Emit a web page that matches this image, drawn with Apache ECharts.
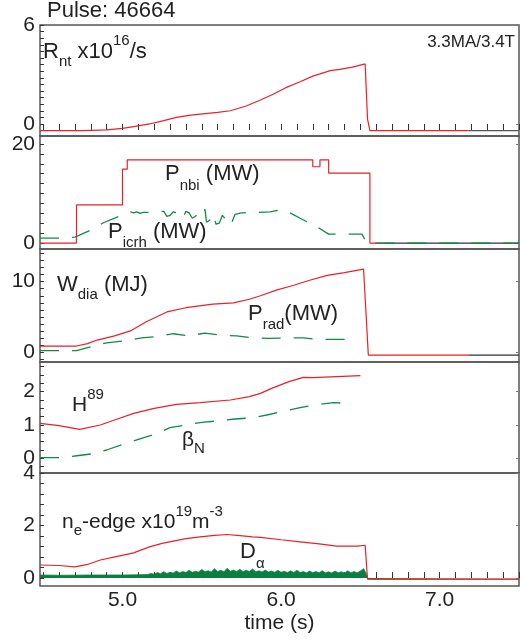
<!DOCTYPE html>
<html><head><meta charset="utf-8">
<script src="https://cdn.jsdelivr.net/npm/echarts@6/dist/echarts.min.js"></script>
<style>html,body{margin:0;padding:0;background:#fff}#c{width:520px;height:641px}</style>
</head><body><div id="c"></div>
<script>
// ---------------- data (time s, value) ----------------
const xTickLabels = [5.0, 6.0, 7.0];
const yTickLabels = [[0, 6], [0, 20], [0, 10], [0, 1, 2], [0, 2, 4]];

// Panel 1: neutron rate x1e16/s
const rnt = [[4.48,-0.4],[4.75,-0.4],[4.9,-0.36],[5.0,-0.27],[5.08,-0.15],[5.17,0.0],[5.26,0.2],[5.34,0.4],[5.42,0.52],[5.49,0.6],[5.6,0.7],[5.68,0.8],[5.78,1.09],[5.87,1.45],[5.95,1.8],[6.03,2.2],[6.12,2.56],[6.2,2.9],[6.31,3.23],[6.37,3.31],[6.45,3.45],[6.53,3.64],[6.545,0.3],[6.56,-0.4],[7.18,-0.4]];
const rntRef = [[7.18,-0.4],[7.5,-0.4]];

// Panel 2: NBI power (step, value held until next time) and ICRH power (MW)
const pnbi = [[4.48,0],[4.71,7.7],[5.0,14.9],[5.03,16.8],[6.2,15.4],[6.245,16.8],[6.30,14.1],[6.56,0],[6.65,0]];
const pnbiRef = [[6.65,0],[7.5,0]];
const picrh = [[4.48,1.0],[4.62,1.0],[4.70,1.2],[4.80,2.6],[4.88,4.1],[4.97,5.3],[5.02,5.8],[5.05,6.3],[5.07,6.1],[5.09,6.3],[5.11,6.0],[5.13,6.2],[5.16,6.2],[5.21,6.3],[5.26,6.4],[5.28,5.4],[5.30,5.6],[5.32,6.3],[5.34,6.1],[5.36,5.2],[5.38,5.0],[5.40,6.4],[5.42,6.1],[5.44,5.0],[5.46,5.4],[5.48,6.2],[5.50,5.6],[5.52,6.8],[5.53,4.2],[5.55,4.6],[5.57,5.8],[5.59,3.8],[5.61,4.0],[5.63,5.6],[5.65,4.8],[5.67,3.6],[5.69,4.2],[5.71,5.8],[5.75,6.1],[5.80,6.1],[5.86,6.2],[5.93,6.3],[6.00,6.7],[6.04,6.4],[6.12,5.0],[6.23,3.2],[6.30,1.8],[6.42,1.8],[6.51,1.8],[6.54,0],[7.5,0]];

// Panel 3: diamagnetic energy (MJ) and radiated power (MW)
const wdia = [[4.48,0.85],[4.71,0.85],[4.78,1.2],[4.84,1.7],[4.95,2.3],[5.05,3.0],[5.15,4.3],[5.28,5.7],[5.40,6.3],[5.57,6.8],[5.70,7.0],[5.80,7.5],[5.87,8.0],[5.97,8.8],[6.08,9.5],[6.18,10.2],[6.29,10.9],[6.40,11.3],[6.52,11.8],[6.55,-0.43],[7.18,-0.43]];
const wdiaRef = [[7.18,-0.43],[7.5,-0.43]];
const prad = [[4.48,0.2],[4.60,0.2],[4.71,0.2],[4.80,0.75],[4.90,1.3],[5.02,1.6],[5.12,2.0],[5.22,2.2],[5.32,2.6],[5.42,2.3],[5.52,2.7],[5.62,2.4],[5.72,2.3],[5.82,2.0],[5.92,1.95],[6.04,2.0],[6.14,2.0],[6.24,1.8],[6.34,1.8],[6.46,1.8]];

// Panel 4: H89 factor and normalised beta
const h89 = [[4.48,1.05],[4.6,0.98],[4.73,0.87],[4.86,1.0],[4.95,1.15],[5.07,1.35],[5.2,1.5],[5.34,1.62],[5.49,1.67],[5.68,1.75],[5.8,1.85],[5.87,1.95],[5.94,2.1],[6.05,2.3],[6.14,2.43],[6.2,2.42],[6.35,2.45],[6.5,2.48]];
const betaN = [[4.48,0.02],[4.61,0.02],[4.70,0.07],[4.80,0.13],[4.90,0.25],[5.01,0.43],[5.10,0.57],[5.22,0.75],[5.30,0.92],[5.42,1.02],[5.50,1.08],[5.62,1.13],[5.71,1.18],[5.83,1.22],[5.91,1.3],[6.02,1.42],[6.12,1.52],[6.24,1.62],[6.33,1.67],[6.42,1.65]];

// Panel 5: edge density x1e19 m^-3 and D-alpha (upper envelope of the trace)
const neEdge = [[4.48,0.5],[4.6,0.48],[4.70,0.43],[4.78,0.52],[4.86,0.69],[4.96,0.82],[5.07,0.96],[5.17,1.19],[5.25,1.32],[5.32,1.41],[5.4,1.5],[5.49,1.57],[5.58,1.63],[5.66,1.66],[5.74,1.62],[5.82,1.57],[5.87,1.55],[6.0,1.46],[6.12,1.38],[6.24,1.3],[6.35,1.22],[6.48,1.22],[6.53,1.25],[6.545,-0.04],[7.5,-0.04]];
const dAlpha = [[4.48,0.12],[4.6,0.11],[4.8,0.12],[5.0,0.12],[5.1,0.13],[5.16,0.14],[5.18,0.18],[5.20,0.15],[5.22,0.21],[5.24,0.17],[5.26,0.24],[5.28,0.18],[5.30,0.22],[5.32,0.19],[5.34,0.27],[5.36,0.2],[5.38,0.25],[5.40,0.21],[5.42,0.3],[5.44,0.22],[5.46,0.26],[5.48,0.23],[5.50,0.33],[5.52,0.24],[5.54,0.28],[5.56,0.23],[5.58,0.36],[5.60,0.25],[5.62,0.3],[5.64,0.24],[5.66,0.38],[5.68,0.26],[5.70,0.31],[5.72,0.25],[5.74,0.34],[5.76,0.24],[5.78,0.3],[5.80,0.25],[5.82,0.35],[5.84,0.24],[5.86,0.28],[5.88,0.23],[5.90,0.31],[5.92,0.23],[5.94,0.27],[5.96,0.22],[5.98,0.3],[6.00,0.22],[6.02,0.26],[6.04,0.21],[6.06,0.28],[6.08,0.21],[6.10,0.3],[6.12,0.21],[6.14,0.25],[6.16,0.2],[6.18,0.27],[6.20,0.2],[6.22,0.25],[6.24,0.2],[6.26,0.28],[6.28,0.2],[6.30,0.24],[6.32,0.19],[6.34,0.27],[6.36,0.2],[6.38,0.24],[6.40,0.19],[6.42,0.28],[6.44,0.2],[6.46,0.25],[6.48,0.2],[6.50,0.27],[6.52,0.36],[6.535,0.2],[6.55,-0.04],[7.5,-0.04]];

// ---------------- layout ----------------
const FONT = '"Liberation Sans", Arial, Helvetica, sans-serif';
const RED = '#e8202a', GREEN = '#118a48', DGREEN = '#0b7f3f', INK = '#222';
function range(a, b, s) { const o = []; for (let v = a; v <= b + 1e-9; v += s) o.push(+v.toFixed(4)); return o; }
const xMinor = range(4.5, 7.5, 0.1);
const grids = [
  {top: 25, height: 111, min: -0.73, max: 6, minor: range(-0.4, 6, 0.4)},
  {top: 136, height: 113, min: -1.2, max: 21.6, minor: range(0, 20, 2)},
  {top: 249, height: 113, min: -1.42, max: 14.65, minor: range(-1, 14, 1)},
  {top: 362, height: 111, min: -0.44, max: 2.89, minor: range(-0.25, 2.75, 0.25)},
  {top: 473, height: 113, min: -0.3, max: 4, minor: range(0, 4, 0.4)}
];

const xAxis = [], yAxis = [];
grids.forEach((g, i) => {
  const last = i === 4;
  xAxis.push({
    type: 'value', gridIndex: i, min: 4.48, max: 7.5,
    axisLine: {show: false}, splitLine: {show: false},
    axisTick: {show: last, inside: true, length: 6, customValues: xMinor, lineStyle: {color: '#333', width: 1}},
    axisLabel: {show: last, customValues: xTickLabels, formatter: v => v.toFixed(1), fontSize: 21, fontFamily: FONT, color: INK, margin: 4},
    name: last ? 'time (s)' : '', nameLocation: 'middle', nameGap: 27,
    nameTextStyle: {fontSize: 21, fontFamily: FONT, color: INK}
  });
});
// top ticks of upper panel
xAxis.push({
  type: 'value', gridIndex: 0, position: 'top', min: 4.48, max: 7.5,
  axisLine: {show: false}, splitLine: {show: false},
  axisTick: {show: true, inside: true, length: 6, customValues: xMinor, lineStyle: {color: '#333', width: 1}},
  axisLabel: {show: false}
});
grids.forEach((g, i) => {
  yAxis.push({
    type: 'value', gridIndex: i, min: g.min, max: g.max,
    axisLine: {show: false}, splitLine: {show: false},
    axisTick: {show: true, inside: true, length: 4, customValues: g.minor, lineStyle: {color: '#333', width: 1}},
    axisLabel: {customValues: yTickLabels[i], fontSize: 21, fontFamily: FONT, color: INK, margin: 5}
  });
});
grids.forEach((g, i) => {
  yAxis.push({
    type: 'value', gridIndex: i, position: 'right', min: g.min, max: g.max,
    axisLine: {show: false}, splitLine: {show: false},
    axisTick: {show: true, inside: true, length: 3, customValues: yTickLabels[i], lineStyle: {color: '#777', width: 1}},
    axisLabel: {show: false}
  });
});

function line(data, i, color, opts) {
  return Object.assign({
    type: 'line', xAxisIndex: i, yAxisIndex: i, data: data, symbol: 'none',
    silent: true, animation: false,
    lineStyle: {color: color, width: 1.2}
  }, opts || {});
}
const DASH = [19, 13];
const series = [
  line(rntRef, 0, '#555'),
  line(rnt, 0, RED),
  line(pnbiRef, 1, '#333'),
  line(pnbi, 1, RED, {step: 'end'}),
  line(picrh, 1, GREEN, {lineStyle: {color: GREEN, width: 1.3, type: DASH}}),
  line(wdiaRef, 2, '#333'),
  line(wdia, 2, RED),
  line(prad, 2, GREEN, {lineStyle: {color: GREEN, width: 1.3, type: DASH}}),
  line(h89, 3, RED),
  line(betaN, 3, GREEN, {lineStyle: {color: GREEN, width: 1.3, type: DASH}}),
  line(dAlpha, 4, DGREEN, {lineStyle: {color: DGREEN, width: 0.7}, areaStyle: {color: DGREEN, opacity: 1}}),
  line(neEdge, 4, RED)
];

// rich text annotations
const M = s => ({fontSize: s, fontFamily: FONT, fill: INK, verticalAlign: 'middle'});
const SUB = (s, d) => ({fontSize: s, fontFamily: FONT, fill: INK, verticalAlign: 'middle', padding: [2 * d, 0, 0, 0]});
const SUP = (s, d) => ({fontSize: s, fontFamily: FONT, fill: INK, verticalAlign: 'middle', padding: [0, 0, 2 * d, 0]});
function label(x, y, text, rich, align) {
  return {type: 'text', x: x, y: y, silent: true, z: 100,
    style: {text: text, rich: rich, fill: INK, fontSize: 22, fontFamily: FONT, align: align || 'left', verticalAlign: 'middle'}};
}
const graphic = [
  label(47, 11, '{m|Pulse: 46664}', {m: M(22)}),
  label(43, 52, '{m|R}{s|nt}{m| x10}{p|16}{m|/s}', {m: M(22), s: SUB(15, 10), p: SUP(15, 11)}),
  label(515, 42, '{m|3.3MA/3.4T}', {m: M(17)}, 'right'),
  label(165, 174, '{m|P}{s|nbi}{m| (MW)}', {m: M(22), s: SUB(15, 12)}),
  label(108, 232, '{m|P}{s|icrh}{m| (MW)}', {m: M(22), s: SUB(15, 11)}),
  label(57, 285, '{m|W}{s|dia}{m| (MJ)}', {m: M(22), s: SUB(15, 10)}),
  label(248, 314, '{m|P}{s|rad}{m|(MW)}', {m: M(22), s: SUB(15, 11)}),
  label(72, 405, '{m|H}{p|89}', {m: M(21), p: SUP(15, 10)}),
  label(182, 440, '{m|β}{s|N}', {m: M(21), s: SUB(15, 9)}),
  label(62, 522, '{m|n}{s|e}{m|-edge x10}{p|19}{m|m}{p|-3}', {m: M(21), s: SUB(15, 9), p: SUP(15, 10)}),
  label(240, 552, '{m|D}{s|α}', {m: M(22), s: SUB(15, 12)})
];

const chart = echarts.init(document.getElementById('c'), null, {renderer: 'canvas'});
chart.setOption({
  animation: false,
  backgroundColor: '#fff',
  grid: grids.map(g => ({left: 40, width: 479, top: g.top, height: g.height, show: true, borderColor: '#555', borderWidth: 1.5, backgroundColor: 'transparent'})),
  xAxis: xAxis,
  yAxis: yAxis,
  series: series,
  graphic: graphic
});
</script>
</body></html>
